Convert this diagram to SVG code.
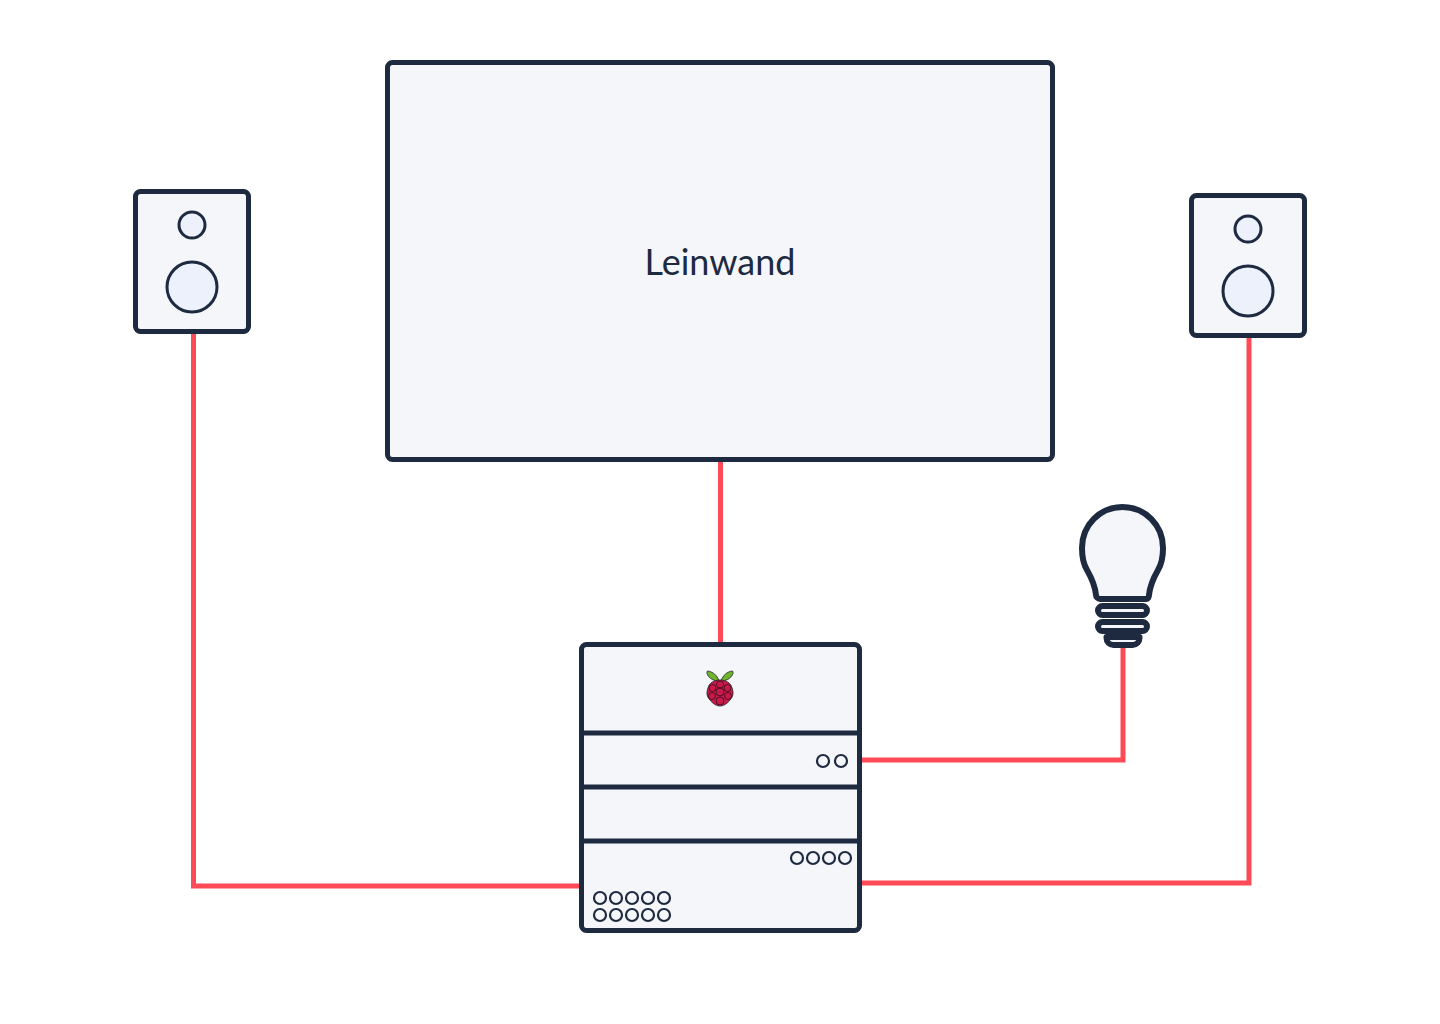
<svg xmlns="http://www.w3.org/2000/svg" width="1440" height="1024" viewBox="0 0 1440 1024">
<style>
.box{fill:#f4f6fa;stroke:#1d2a40;stroke-width:5}
.sp{fill:#edf1fc;stroke:#1d2a40;stroke-width:3}
.div{stroke:#1d2a40;stroke-width:5;fill:none}
.port{fill:#f4f6fa;stroke:#1d2a40;stroke-width:2.200}
.wire{fill:none;stroke:#fd4a57;stroke-width:5}
.bulb{fill:#f4f6fa;stroke:#1d2a40;stroke-width:6;stroke-linejoin:round}
</style>
<rect width="1440" height="1024" fill="#fff"/>
<g id="connectors">
<path class="wire" d="M193.500 331V886H581"/>
<path class="wire" d="M720.500 459V644"/>
<path class="wire" d="M859 760H1123V645"/>
<path class="wire" d="M859 883H1249V335"/>
</g>
<g id="screen">
<rect class="box" x="387.500" y="62.500" width="665" height="397" rx="5"/>
<text x="720" y="275" text-anchor="middle" font-family="Lato, sans-serif" font-size="36" fill="#1d2a40">Leinwand</text>
</g>
<g id="speaker-left">
<rect class="box" x="135.500" y="191.500" width="113" height="140" rx="5"/>
<circle class="sp" cx="192" cy="225" r="13"/>
<circle class="sp" cx="192" cy="287" r="25"/>
</g>
<g id="speaker-right">
<rect class="box" x="1191.500" y="195.500" width="113" height="140" rx="5"/>
<circle class="sp" cx="1248" cy="229" r="13"/>
<circle class="sp" cx="1248" cy="291" r="25"/>
</g>
<g id="bulb">
<path class="bulb" d="M1100 599H1146C1148 599 1149 597 1149 595C1150 585 1154 577 1158 570C1161 565 1163 558 1163 548C1163 525 1145 507 1122.500 507C1100 507 1082 525 1082 548C1082 558 1084 565 1087 570C1091 577 1095 585 1096 595C1096 597 1098 599 1100 599Z"/>
<rect class="bulb" x="1098" y="606" width="49" height="9" rx="4.500"/>
<rect class="bulb" x="1098" y="622" width="49" height="9" rx="4.500"/>
<path class="bulb" d="M1106.500 637H1139.500V638C1139.500 642 1136.500 645 1132.500 645H1113.500C1109.500 645 1106.500 642 1106.500 638Z"/>
</g>
<g id="raspberry-stack">
<rect class="box" x="581.500" y="644.500" width="278" height="286" rx="5"/>
<path class="div" d="M581 733H861M581 787H859M581 841H859"/>
<g id="raspberry-logo">
<path d="M719 681C717 675 713 672 708 671C705 671 708 681 719 681Z" fill="#6cb52d" stroke="#222" stroke-width=".8"/>
<path d="M721 681C723 675 727 672 732 671C735 671 732 681 721 681Z" fill="#6cb52d" stroke="#222" stroke-width=".8"/>
<path d="M720 680C726 680 731 683 732 688C734 693 733 697 730 700C727 704 723 706 720 706C717 706 713 704 710 700C707 697 706 693 708 688C709 683 714 680 720 680Z" fill="#c51a4a" stroke="#222" stroke-width=".8"/>
<g fill="none" stroke="#3a0d1c" stroke-width=".8">
<circle cx="720" cy="684.500" r="3.500"/><circle cx="720" cy="692" r="4"/><circle cx="720" cy="701" r="4"/>
<circle cx="712.500" cy="688" r="3.500"/><circle cx="727.500" cy="688" r="3.500"/>
<circle cx="712" cy="696" r="3.500"/><circle cx="728" cy="696" r="3.500"/>
</g>
</g>
<g id="ports">
<circle class="port" cx="823" cy="761" r="6"/><circle class="port" cx="841" cy="761" r="6"/>
<circle class="port" cx="797" cy="858" r="6"/><circle class="port" cx="813" cy="858" r="6"/><circle class="port" cx="829" cy="858" r="6"/><circle class="port" cx="845" cy="858" r="6"/>
<circle class="port" cx="600" cy="898" r="6"/><circle class="port" cx="616" cy="898" r="6"/><circle class="port" cx="632" cy="898" r="6"/><circle class="port" cx="648" cy="898" r="6"/><circle class="port" cx="664" cy="898" r="6"/>
<circle class="port" cx="600" cy="915" r="6"/><circle class="port" cx="616" cy="915" r="6"/><circle class="port" cx="632" cy="915" r="6"/><circle class="port" cx="648" cy="915" r="6"/><circle class="port" cx="664" cy="915" r="6"/>
</g>
</g>
</svg>
